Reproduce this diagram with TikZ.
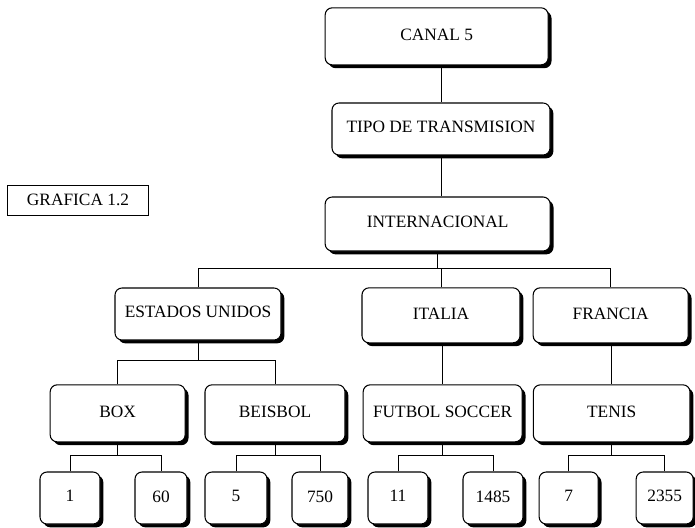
\documentclass[tikz,border=0pt]{standalone}
\usepackage{fontspec}
\setmainfont{Liberation Serif}
\usetikzlibrary{shadows, calc}

\begin{document}
\begin{tikzpicture}[
    font=\fontsize{14.8}{17}\selectfont,
    box/.style={
        rectangle, rounded corners=6pt,
        draw=black, fill=white, line width=0.9pt,
        inner sep=2pt, align=center, text depth=0.3em,
        drop shadow={shadow xshift=0.1cm, shadow yshift=-0.1cm, fill=black, opacity=1}
    },
    leafbox/.style={
        box, minimum height=1.56cm
    },
    titlebox/.style={
        rectangle, draw=black, line width=0.8pt,
        minimum width=4.23cm, minimum height=0.9cm
    },
    link/.style={
        draw=black, line width=0.8pt
    }
]
\useasboundingbox (0,0) rectangle (20.85,15.81);

% 1. Canal y tipo de transmision
\node[box, minimum width=6.69cm, minimum height=1.71cm] (canal) at (13.10, 14.72) {CANAL 5};
\node[box, minimum width=6.54cm, minimum height=1.56cm] (tipo) at (13.23, 11.94) {TIPO DE TRANSMISION};
\node[box, minimum width=6.75cm, minimum height=1.62cm] (inter) at (13.13, 9.09) {INTERNACIONAL};

% Titulo de la grafica
\node[titlebox] (grafica) at (2.34, 9.81) {GRAFICA 1.2};

% 2. Paises
\node[box, minimum width=4.98cm, minimum height=1.56cm] (eeuu) at (5.94, 6.39) {ESTADOS UNIDOS};
\node[box, minimum width=4.74cm, minimum height=1.65cm] (italia) at (13.23, 6.35) {ITALIA};
\node[box, minimum width=4.65cm, minimum height=1.65cm] (francia) at (18.32, 6.35) {FRANCIA};

% 3. Deportes
\node[box, minimum width=4.05cm, minimum height=1.71cm] (box) at (3.53, 3.41) {BOX};
\node[box, minimum width=4.20cm, minimum height=1.71cm] (beisbol) at (8.25, 3.41) {BEISBOL};
\node[box, minimum width=4.77cm, minimum height=1.71cm] (futbol) at (13.28, 3.41) {FUTBOL SOCCER};
\node[box, minimum width=4.70cm, minimum height=1.71cm] (tenis) at (18.35, 3.41) {TENIS};

% 4. Cifras
\node[leafbox, minimum width=1.80cm] (l1) at (2.10, 0.87) {1};
\node[leafbox, minimum width=1.56cm] (l60) at (4.83, 0.87) {60};
\node[leafbox, minimum width=1.86cm] (l5) at (7.08, 0.87) {5};
\node[leafbox, minimum width=1.68cm] (l750) at (9.60, 0.87) {750};
\node[leafbox, minimum width=1.80cm] (l11) at (11.94, 0.87) {11};
\node[leafbox, minimum width=1.80cm] (l1485) at (14.79, 0.87) {1485};
\node[leafbox, minimum width=1.77cm] (l7) at (17.06, 0.87) {7};
\node[leafbox, minimum width=1.71cm] (l2355) at (19.94, 0.87) {2355};

% ================= Conexiones =================

% Canal -> Tipo -> Internacional
\draw[link] (tipo.north |- canal.south) -- (tipo.north);
\draw[link] (tipo.south) -- (tipo.south |- inter.north);

% Internacional -> paises
\draw[link] (inter.south) -- ++(0,-0.51) coordinate (businter);
\draw[link] (eeuu.north) |- (businter) -| (francia.north);
\draw[link] (italia.north) -- (italia.north |- businter);

% Paises -> deportes
\draw[link] (eeuu.south) -- ++(0,-0.6) coordinate (buseeuu);
\draw[link] (box.north) |- (buseeuu) -| (beisbol.north);
\draw[link] (futbol.north |- italia.south) -- (futbol.north);
\draw[link] (tenis.north |- francia.south) -- (tenis.north);

% Deportes -> cifras
\foreach \p/\a/\b in {box/l1/l60, beisbol/l5/l750, futbol/l11/l1485, tenis/l7/l2355} {
    \draw[link] (\p.south) -- ++(0,-0.39) coordinate (bus\p);
    \draw[link] (\a.north) |- (bus\p) -| (\b.north);
}

\end{tikzpicture}
\end{document}
